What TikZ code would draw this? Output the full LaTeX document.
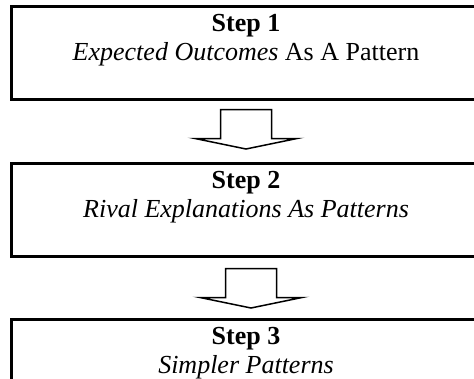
\documentclass[tikz,border=0pt]{standalone}
\usepackage{fontspec}
\setmainfont{Liberation Serif}
\usetikzlibrary{positioning}
\usetikzlibrary{calc}
\tikzset{
        % Step boxes
        stepbox/.style={draw=black, line width=2.4pt, outer sep=0pt, inner sep=0pt, minimum width=469pt, minimum height=93pt},
        % Text inside the boxes
        steptext/.style={align=center, inner sep=0pt, font=\fontsize{26}{29.5}\selectfont},
        % Hollow block arrows
        blockarrow/.style={draw=black, fill=white, line width=1.5pt, line join=miter},
        downarrow/.pic={
            \draw[blockarrow] (-25.5,0) -- (-25.5,-29) -- (-51,-29) -- (0,-39.5)
                -- (51,-29) -- (25.5,-29) -- (25.5,0) -- cycle;
        }
}
\begin{document}
\begin{tikzpicture}[
            x=1pt, y=1pt,
            node distance=64pt
        ]
            \useasboundingbox (0,0) rectangle (474,-378);
            \clip (0,0) rectangle (474,-378);
            \node[stepbox] (s1) at (246,-53) {};
            \node[stepbox, below=of s1] (s2) {};
            \node[stepbox, below=63pt of s2] (s3) {};
            % texts
            \node[steptext, below=7.5pt of s1.north] (t1) {\textbf{Step 1}\\\textit{Expected Outcomes} As A Pattern};
            \node[steptext, below=7.5pt of s2.north] (t2) {\textbf{Step 2}\\\textit{Rival Explanations As Patterns}};
            \node[steptext, below=7.5pt of s3.north] (t3) {\textbf{Step 3}\\\textit{Simpler Patterns}};
            % arrows
            \pic at ($(s1.south)+(0,-10)$) {downarrow};
            \pic at ($(s2.south)+(5,-12)$) {downarrow};
        \end{tikzpicture}
\end{document}
